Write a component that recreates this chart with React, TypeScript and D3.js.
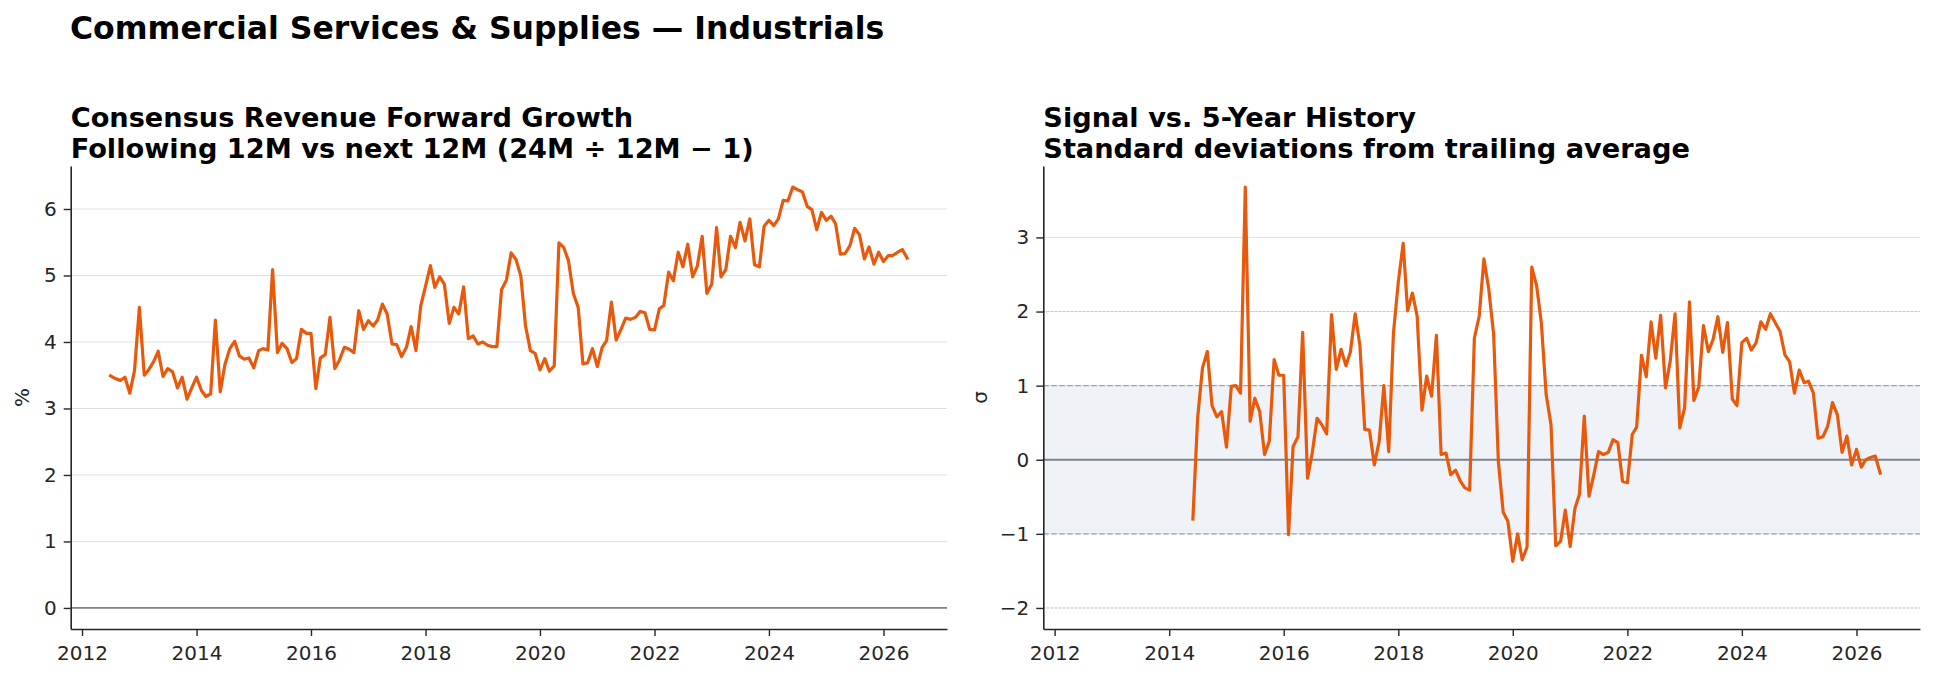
import React, { useRef, useEffect } from "react";
import * as d3 from "d3";

// monthly consensus revenue forward growth (%), starting Jul 2012
const growthStart = Date.UTC(2012, 6, 1);
const growth = [
  3.49, 3.45, 3.42, 3.47, 3.23, 3.57, 4.52, 3.5, 3.58, 3.7, 3.86, 3.48,
  3.6, 3.55, 3.31, 3.47, 3.14, 3.31, 3.47, 3.27, 3.18, 3.22, 4.33, 3.25,
  3.66, 3.9, 4.01, 3.79, 3.74, 3.76, 3.61, 3.87, 3.9, 3.88, 5.09, 3.84,
  3.98, 3.9, 3.69, 3.75, 4.19, 4.13, 4.13, 3.3, 3.76, 3.81, 4.37, 3.6,
  3.73, 3.92, 3.89, 3.84, 4.47, 4.19, 4.32, 4.24, 4.33, 4.57, 4.42, 3.97,
  3.96, 3.78, 3.92, 4.23, 3.87, 4.54, 4.84, 5.15, 4.82, 4.98, 4.87, 4.28,
  4.52, 4.42, 4.83, 4.05, 4.09, 3.97, 4.0, 3.95, 3.93, 3.93, 4.79, 4.93,
  5.34, 5.24, 4.99, 4.24, 3.87, 3.83, 3.58, 3.75, 3.56, 3.64, 5.49, 5.42,
  5.22, 4.73, 4.52, 3.67, 3.69, 3.9, 3.63, 3.92, 4.02, 4.6, 4.03, 4.19,
  4.36, 4.34, 4.37, 4.46, 4.44, 4.19, 4.18, 4.5, 4.55, 5.05, 4.92, 5.35,
  5.13, 5.47, 4.98, 5.14, 5.59, 4.73, 4.87, 5.72, 4.98, 5.09, 5.59, 5.42,
  5.8, 5.52, 5.85, 5.16, 5.13, 5.74, 5.83, 5.75, 5.85, 6.13, 6.12, 6.33,
  6.29, 6.26, 6.04, 5.99, 5.69, 5.95, 5.83, 5.89, 5.78, 5.32, 5.33, 5.45,
  5.71, 5.61, 5.25, 5.43, 5.17, 5.35, 5.21, 5.3, 5.3, 5.35, 5.39, 5.26,
];

// z-score vs trailing 5y window, starting Jun 2014
const signalStart = Date.UTC(2014, 5, 1);
const signal = [
  -0.8, 0.56, 1.24, 1.46, 0.73, 0.58, 0.65, 0.17, 0.99, 1.0, 0.9, 3.68,
  0.52, 0.83, 0.65, 0.07, 0.25, 1.35, 1.14, 1.14, -1.01, 0.18, 0.31, 1.72,
  -0.25, 0.09, 0.56, 0.47, 0.35, 1.96, 1.22, 1.49, 1.27, 1.45, 1.97, 1.54,
  0.41, 0.4, -0.07, 0.25, 1.0, 0.11, 1.71, 2.4, 2.92, 2.01, 2.25, 1.94,
  0.67, 1.13, 0.86, 1.68, 0.07, 0.09, -0.2, -0.14, -0.29, -0.38, -0.41, 1.64,
  1.94, 2.71, 2.3, 1.69, -0.02, -0.71, -0.83, -1.37, -1.0, -1.35, -1.18, 2.6,
  2.35, 1.85, 0.88, 0.47, -1.16, -1.1, -0.68, -1.17, -0.65, -0.47, 0.59, -0.49,
  -0.2, 0.11, 0.07, 0.1, 0.27, 0.23, -0.29, -0.31, 0.34, 0.44, 1.41, 1.12,
  1.86, 1.37, 1.95, 0.97, 1.33, 1.97, 0.43, 0.7, 2.13, 0.8, 0.98, 1.81,
  1.46, 1.62, 1.93, 1.45, 1.85, 0.82, 0.73, 1.58, 1.64, 1.48, 1.58, 1.86,
  1.76, 1.97, 1.85, 1.73, 1.42, 1.32, 0.9, 1.21, 1.04, 1.06, 0.9, 0.29,
  0.31, 0.45, 0.77, 0.61, 0.1, 0.32, -0.07, 0.14, -0.1, 0.0, 0.03, 0.05,
  -0.18,
];

const yearTicks = [2012, 2014, 2016, 2018, 2020, 2022, 2024, 2026];
const growthTicks = [0, 1, 2, 3, 4, 5, 6];
const sigmaTicks = [-2, -1, 0, 1, 2, 3];

const W = 1934;
const H = 679;
const FONT = "DejaVu Sans, sans-serif";
const ORANGE = "#e8590c";
const INK = "#262626";

const monthSeries = (start, values) =>
  values.map((v, i) => ({ date: d3.utcMonth.offset(new Date(start), i), value: v }));

// pad a [lo, hi] range by 5% on each side
const padded = (lo, hi) => {
  const m = (hi - lo) * 0.05;
  return [lo - m, hi + m];
};

const App = () => {
  const wrapper = useRef(null);

  useEffect(() => {
    const root = d3.select(wrapper.current);
    root.selectAll("*").remove();

    const svg = root
      .append("svg")
      .attr("width", W)
      .attr("height", H)
      .style("display", "block")
      .style("font-family", FONT);

    svg.append("rect").attr("width", W).attr("height", H).attr("fill", "white");

    const growthData = monthSeries(growthStart, growth);
    const signalData = monthSeries(signalStart, signal);

    // shared date range, padded 5% each side
    const [d0, d1] = d3.extent(growthData, (d) => d.date);
    const pad = (d1 - d0) * 0.05;
    const xDomain = [new Date(+d0 - pad), new Date(+d1 + pad)];

    const top = 166;
    const bottom = 629;

    svg
      .append("text")
      .attr("x", 70)
      .attr("y", 39)
      .attr("font-size", 31.5)
      .attr("font-weight", "bold")
      .attr("fill", "black")
      .text("Commercial Services & Supplies — Industrials");

    const drawPanel = ({ left, right, yDomain, ticks, data, titles, ylabel, labelOffset, bands }) => {
      const g = svg.append("g");
      const x = d3.scaleUtc().domain(xDomain).range([left, right]);
      const y = d3.scaleLinear().domain(yDomain).range([bottom, top]);

      titles.forEach((t, i) => {
        g.append("text")
          .attr("x", left)
          .attr("y", 127 + i * 31)
          .attr("font-size", 27.2)
          .attr("font-weight", "bold")
          .attr("fill", "black")
          .text(t);
      });

      if (bands) {
        g.append("rect")
          .attr("x", left)
          .attr("width", right - left)
          .attr("y", y(1))
          .attr("height", y(-1) - y(1))
          .attr("fill", "#eff3f8");
      }

      g.selectAll(".grid")
        .data(ticks)
        .enter()
        .append("line")
        .attr("x1", left)
        .attr("x2", right)
        .attr("y1", (d) => y(d))
        .attr("y2", (d) => y(d))
        .attr("stroke", "#e0e0e0")
        .attr("stroke-width", 1);

      if (bands) {
        [2, -2].forEach((v) => {
          g.append("line")
            .attr("x1", left)
            .attr("x2", right)
            .attr("y1", y(v))
            .attr("y2", y(v))
            .attr("stroke", "#b7c3d3")
            .attr("stroke-width", 1)
            .attr("stroke-dasharray", "1.5,2.5");
        });
        [1, -1].forEach((v) => {
          g.append("line")
            .attr("x1", left)
            .attr("x2", right)
            .attr("y1", y(v))
            .attr("y2", y(v))
            .attr("stroke", "#97a6bb")
            .attr("stroke-width", 1.3)
            .attr("stroke-dasharray", "5.5,2.5");
        });
      }

      g.append("line")
        .attr("x1", left)
        .attr("x2", right)
        .attr("y1", y(0))
        .attr("y2", y(0))
        .attr("stroke", "#7e828d")
        .attr("stroke-width", 1.8);

      const line = d3
        .line()
        .x((d) => x(d.date))
        .y((d) => y(d.value));

      g.append("path")
        .datum(data)
        .attr("d", line)
        .attr("fill", "none")
        .attr("stroke", ORANGE)
        .attr("stroke-width", 3.2)
        .attr("stroke-linejoin", "round")
        .attr("stroke-linecap", "square");

      const xAxis = d3
        .axisBottom(x)
        .tickValues(yearTicks.map((yr) => new Date(Date.UTC(yr, 0, 1))))
        .tickFormat(d3.utcFormat("%Y"))
        .tickSize(7)
        .tickSizeOuter(0)
        .tickPadding(10);

      const yAxis = d3
        .axisLeft(y)
        .tickValues(ticks)
        .tickFormat(d3.format("d"))
        .tickSize(7)
        .tickSizeOuter(0)
        .tickPadding(7);

      const styleAxis = (sel) => {
        sel.attr("font-family", FONT).attr("font-size", 20);
        sel.selectAll("path.domain").attr("stroke", INK).attr("stroke-width", 1.6);
        sel.selectAll(".tick line").attr("stroke", INK).attr("stroke-width", 1.4);
        sel.selectAll(".tick text").attr("fill", INK);
      };

      g.append("g").attr("transform", `translate(0,${bottom})`).call(xAxis).call(styleAxis);
      g.append("g").attr("transform", `translate(${left},0)`).call(yAxis).call(styleAxis);

      g.append("text")
        .attr("transform", `translate(${left - labelOffset},${(top + bottom) / 2}) rotate(-90)`)
        .attr("text-anchor", "middle")
        .attr("font-size", 20)
        .attr("fill", INK)
        .text(ylabel);
    };

    drawPanel({
      left: 70.7,
      right: 947,
      yDomain: padded(0, d3.max(growth)),
      ticks: growthTicks,
      data: growthData,
      titles: [
        "Consensus Revenue Forward Growth",
        "Following 12M vs next 12M (24M ÷ 12M − 1)",
      ],
      ylabel: "%",
      labelOffset: 41.5,
      bands: false,
    });

    drawPanel({
      left: 1043.3,
      right: 1920,
      yDomain: padded(-2, d3.max(signal)),
      ticks: sigmaTicks,
      data: signalData,
      titles: ["Signal vs. 5-Year History", "Standard deviations from trailing average"],
      ylabel: "σ",
      labelOffset: 56,
      bands: true,
    });
  }, []);

  return <div ref={wrapper} style={{ position: "absolute", left: 0, top: 0 }} />;
};

export default App;
